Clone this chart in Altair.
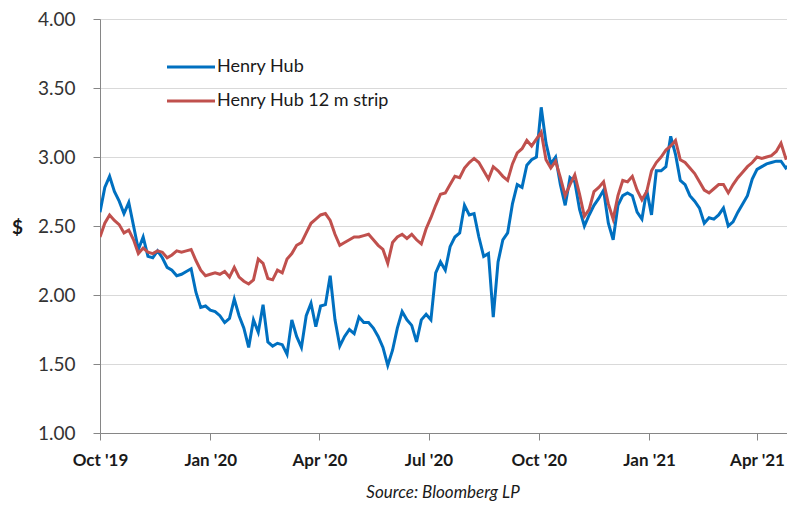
import altair as alt
import pandas as pd

# Sampling: every 4 days from 1 Oct 2019
start_date = "2019-10-01"
step = "4D"

henry_hub = [
    2.60, 2.78, 2.86, 2.75, 2.68, 2.59, 2.67, 2.50, 2.33, 2.42,
    2.28, 2.27, 2.32, 2.27, 2.20, 2.18, 2.14, 2.15, 2.17, 2.19,
    2.02, 1.91, 1.92, 1.89, 1.88, 1.85, 1.80, 1.83, 1.97, 1.85,
    1.76, 1.62, 1.82, 1.73, 1.93, 1.66, 1.63, 1.65, 1.64, 1.57,
    1.82, 1.70, 1.62, 1.85, 1.94, 1.77, 1.92, 1.93, 2.14, 1.82,
    1.63, 1.70, 1.75, 1.72, 1.84, 1.80, 1.80, 1.76, 1.70, 1.62,
    1.49, 1.60, 1.76, 1.88, 1.82, 1.78, 1.66, 1.82, 1.86, 1.82,
    2.16, 2.24, 2.18, 2.35, 2.42, 2.45, 2.65, 2.58, 2.59, 2.42,
    2.28, 2.30, 1.84, 2.24, 2.40, 2.45, 2.66, 2.80, 2.78, 2.94,
    2.98, 3.00, 3.36, 3.10, 2.95, 3.00, 2.80, 2.65, 2.85, 2.82,
    2.62, 2.50, 2.58, 2.65, 2.70, 2.76, 2.52, 2.40, 2.65, 2.72,
    2.74, 2.72, 2.60, 2.55, 2.76, 2.58, 2.90, 2.90, 2.93, 3.15,
    3.02, 2.83, 2.80, 2.72, 2.68, 2.63, 2.52, 2.56, 2.55, 2.58,
    2.63, 2.50, 2.53, 2.60, 2.66, 2.72, 2.84, 2.91, 2.93, 2.95,
    2.96, 2.97, 2.97, 2.92, 2.95, 3.10,
]

strip_12m = [
    2.42, 2.52, 2.58, 2.54, 2.51, 2.45, 2.47, 2.40, 2.30, 2.34,
    2.31, 2.30, 2.32, 2.31, 2.27, 2.29, 2.32, 2.31, 2.32, 2.33,
    2.25, 2.18, 2.14, 2.15, 2.16, 2.15, 2.17, 2.13, 2.20, 2.13,
    2.10, 2.08, 2.11, 2.26, 2.23, 2.12, 2.11, 2.18, 2.16, 2.26,
    2.30, 2.36, 2.38, 2.45, 2.52, 2.55, 2.58, 2.59, 2.54, 2.44,
    2.36, 2.38, 2.40, 2.42, 2.42, 2.43, 2.44, 2.40, 2.36, 2.33,
    2.23, 2.38, 2.42, 2.44, 2.41, 2.44, 2.40, 2.37, 2.48, 2.56,
    2.65, 2.73, 2.74, 2.80, 2.86, 2.85, 2.92, 2.96, 2.99, 2.96,
    2.90, 2.84, 2.93, 2.90, 2.86, 2.83, 2.95, 3.03, 3.06, 3.12,
    3.08, 3.13, 3.18, 2.98, 2.92, 2.97, 2.85, 2.72, 2.80, 2.87,
    2.73, 2.57, 2.62, 2.75, 2.78, 2.82, 2.66, 2.55, 2.72, 2.83,
    2.82, 2.86, 2.76, 2.69, 2.75, 2.90, 2.96, 3.00, 3.05, 3.08,
    3.12, 2.98, 2.96, 2.92, 2.88, 2.82, 2.76, 2.74, 2.77, 2.80,
    2.80, 2.74, 2.80, 2.85, 2.89, 2.93, 2.96, 3.00, 2.99, 3.00,
    3.01, 3.04, 3.10, 2.99, 3.00, 3.02,
]

series_names = ["Henry Hub", "Henry Hub 12 m strip"]
series_colors = ["#0070C0", "#C0504D"]
y_ticks = [1.0, 1.5, 2.0, 2.5, 3.0, 3.5, 4.0]
x_tick_dates = [(2019, 10), (2020, 1), (2020, 4), (2020, 7), (2020, 10), (2021, 1), (2021, 4)]
source_text = "Source: Bloomberg LP"

dates = pd.date_range(start_date, periods=len(henry_hub), freq=step)
df = pd.DataFrame({"date": dates.strftime("%Y-%m-%d"), "hh": henry_hub, "strip": strip_12m})

FONT = "Lato"

x_enc = alt.X(
    "date:T",
    scale=alt.Scale(
        type="utc",
        domain=[alt.DateTime(year=2019, month=10, date=1, utc=True),
                alt.DateTime(year=2021, month=4, date=26, utc=True)],
    ),
    axis=alt.Axis(
        values=[alt.DateTime(year=y, month=m, date=1, utc=True) for y, m in x_tick_dates],
        labelExpr="utcFormat(datum.value, \"%b '%y\")",
        title=None,
        grid=False,
        tickSize=7,
        tickColor="#868686",
        domainColor="#868686",
        labelFont=FONT,
        labelFontSize=17,
        labelFontWeight="bold",
        labelColor="#1a1a1a",
        labelPadding=12,
        labelFlush=False,
    ),
)

y_axis = alt.Axis(
    values=y_ticks,
    format=".2f",
    title="$",
    titleAngle=0,
    titleX=-83,
    titleY=208,
    titleAlign="center",
    titleBaseline="middle",
    titleFont=FONT,
    titleFontSize=19,
    titleFontWeight="bold",
    titleColor="#1a1a1a",
    grid=True,
    gridColor="#d9d9d9",
    tickSize=7,
    tickColor="#868686",
    domainColor="#868686",
    labelFont=FONT,
    labelFontSize=19,
    labelColor="#333333",
    labelPadding=18,
)

y_scale = alt.Scale(domain=[1, 4], nice=False)

base = alt.Chart(df)

hh_line = base.mark_line(strokeWidth=3, color=series_colors[0], clip=True).encode(
    x=x_enc, y=alt.Y("hh:Q", scale=y_scale, axis=y_axis)
)
strip_line = base.mark_line(strokeWidth=3, color=series_colors[1], clip=True).encode(
    x="date:T", y=alt.Y("strip:Q", scale=y_scale)
)

legend_layers = []
for i, (name, col) in enumerate(zip(series_names, series_colors)):
    ly = 48 + 34 * i
    legend_layers.append(
        alt.Chart(pd.DataFrame({"name": [name]})).mark_rule(strokeWidth=3, color=col).encode(
            x=alt.value(67), x2=alt.value(115), y=alt.value(ly)
        )
    )
    legend_layers.append(
        alt.Chart(pd.DataFrame({"name": [name]})).mark_text(
            align="left", baseline="middle", font=FONT, fontSize=18, color="#1a1a1a"
        ).encode(x=alt.value(117), y=alt.value(ly), text="name:N")
    )

source = alt.Chart(pd.DataFrame({"t": [source_text]})).mark_text(
    align="center", baseline="middle", font=FONT, fontSize=17, fontStyle="italic", color="#1a1a1a"
).encode(x=alt.value(343), y=alt.value(474), text="t:N")

chart = alt.layer(hh_line, strip_line, *legend_layers, source).properties(
    width=687,
    height=414,
    autosize=alt.AutoSizeParams(type="none"),
    padding={"left": 92, "top": 11, "right": 0, "bottom": 70},
).configure_view(stroke=None).configure(background="white")

chart.save("out.html", embed_options={"renderer": "svg", "actions": False})
